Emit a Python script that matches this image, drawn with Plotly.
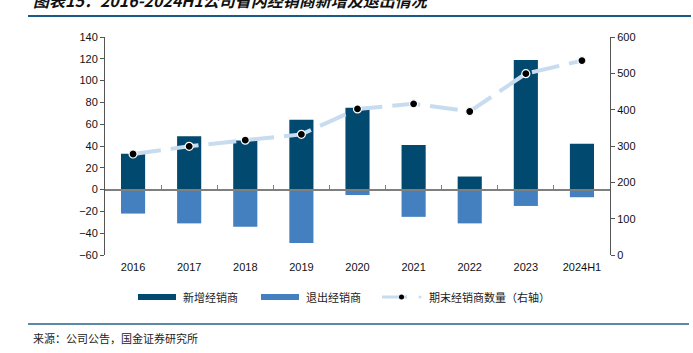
import plotly.graph_objects as go

categories = ["2016", "2017", "2018", "2019", "2020", "2021", "2022", "2023", "2024H1"]
new_dealers = [33, 49, 45, 64, 75, 41, 12, 119, 42]
exit_dealers = [-22, -31, -34, -49, -5, -25, -31, -15, -7]
end_dealers = [278, 299, 316, 332, 402, 416, 395, 499, 535]

W, H = 693, 353
L, R, T, B = 105, 610, 37, 255

def px(x):
    return (x - L) / (R - L)

def py(y):
    return (B - y) / (B - T)

C_NEW = "#02496f"
C_EXIT = "#4480bf"
C_LINE = "#c8dcf0"
FONT = "Liberation Sans, Arial, sans-serif"
CJK = "Noto Sans CJK SC"

fig = go.Figure()
fig.add_trace(go.Bar(x=categories, y=new_dealers, name="新增经销商", marker=dict(color=C_NEW, line=dict(width=0)),
                     width=0.43, xaxis="x", yaxis="y"))
fig.add_trace(go.Bar(x=categories, y=exit_dealers, name="退出经销商", marker=dict(color=C_EXIT, line=dict(width=0)),
                     width=0.43, xaxis="x2", yaxis="y"))
fig.add_trace(go.Scatter(x=categories, y=end_dealers, name="期末经销商数量（右轴）", mode="lines+markers",
                         line=dict(color=C_LINE, width=4, dash="28px,10px"),
                         marker=dict(color="black", size=8, line=dict(color="white", width=1.2)),
                         xaxis="x", yaxis="y3"))

axis_font = dict(family=FONT, size=11, color="#111")
fig.update_layout(
    width=W, height=H,
    margin=dict(l=L, r=W - R, t=T, b=H - B),
    paper_bgcolor="white", plot_bgcolor="white",
    showlegend=False,
    barmode="overlay",
    xaxis=dict(domain=[0, 1], type="category", categoryorder="array", categoryarray=categories,
               range=[-0.5, 8.5], showline=False, ticks="", showgrid=False, zeroline=False,
               tickfont=axis_font, ticklabelstandoff=4),
    xaxis2=dict(overlaying="x", matches="x", type="category", anchor="free", position=0.3,
                showline=True, linecolor="#7f7f7f", linewidth=1.5, ticks="inside", tickson="boundaries",
                ticklen=4, tickcolor="#7f7f7f", showticklabels=False, showgrid=False, zeroline=False),
    yaxis=dict(range=[-60, 140], dtick=20, showgrid=False, zeroline=False, showline=True,
               linecolor="#555", linewidth=1, ticks="outside", ticklen=4, tickcolor="#555",
               tickfont=axis_font),
    yaxis3=dict(overlaying="y", side="right", anchor="x", range=[0, 600], dtick=100, showgrid=False,
                zeroline=False, showline=True, linecolor="#555", linewidth=1, ticks="outside",
                ticklen=4, tickcolor="#555", tickfont=axis_font),
)

shapes = []
annotations = []
# top and bottom rules
shapes.append(dict(type="line", xref="paper", yref="paper", x0=px(28), x1=px(691), y0=py(16), y1=py(16),
                   line=dict(color="#1c5a86", width=2)))
shapes.append(dict(type="line", xref="paper", yref="paper", x0=px(28), x1=px(689), y0=py(324), y1=py(324),
                   line=dict(color="#5b8aa6", width=2)))
# legend
ly = 297
shapes.append(dict(type="rect", xref="paper", yref="paper", x0=px(138), x1=px(176), y0=py(ly - 3), y1=py(ly + 3),
                   fillcolor=C_NEW, line=dict(width=0)))
shapes.append(dict(type="rect", xref="paper", yref="paper", x0=px(261), x1=px(299), y0=py(ly - 3), y1=py(ly + 3),
                   fillcolor=C_EXIT, line=dict(width=0)))
shapes.append(dict(type="line", xref="paper", yref="paper", x0=px(382), x1=px(407), y0=py(ly), y1=py(ly),
                   line=dict(color=C_LINE, width=3)))
shapes.append(dict(type="circle", xref="paper", yref="paper", x0=px(399), x1=px(404), y0=py(ly - 2.5), y1=py(ly + 2.5),
                   fillcolor="black", line=dict(width=0)))
shapes.append(dict(type="circle", xref="paper", yref="paper", x0=px(418.5), x1=px(421.5), y0=py(ly - 1.5), y1=py(ly + 1.5),
                   fillcolor=C_LINE, line=dict(width=0)))
leg_font = dict(family=CJK, size=11, color="#222")
for x, t in [(181, "新增经销商"), (304, "退出经销商"), (427, "期末经销商数量（右轴）")]:
    annotations.append(dict(text=t, xref="paper", yref="paper", x=px(x), y=py(ly), xanchor="left",
                            yanchor="middle", showarrow=False, font=leg_font))
# title (partially cut at top)
annotations.append(dict(text="<b><i>图表15：2016-2024H1公司省内经销商新增及退出情况</i></b>", xref="paper", yref="paper",
                        x=px(31), y=py(0), xanchor="left", yanchor="middle", showarrow=False,
                        font=dict(family=CJK, size=16, color="#111")))
# source
annotations.append(dict(text="来源：公司公告，国金证券研究所", xref="paper", yref="paper", x=px(31), y=py(338),
                        xanchor="left", yanchor="middle", showarrow=False,
                        font=dict(family=CJK, size=11, color="#222")))
fig.update_layout(shapes=shapes, annotations=annotations)

fig.write_html("out.html")
